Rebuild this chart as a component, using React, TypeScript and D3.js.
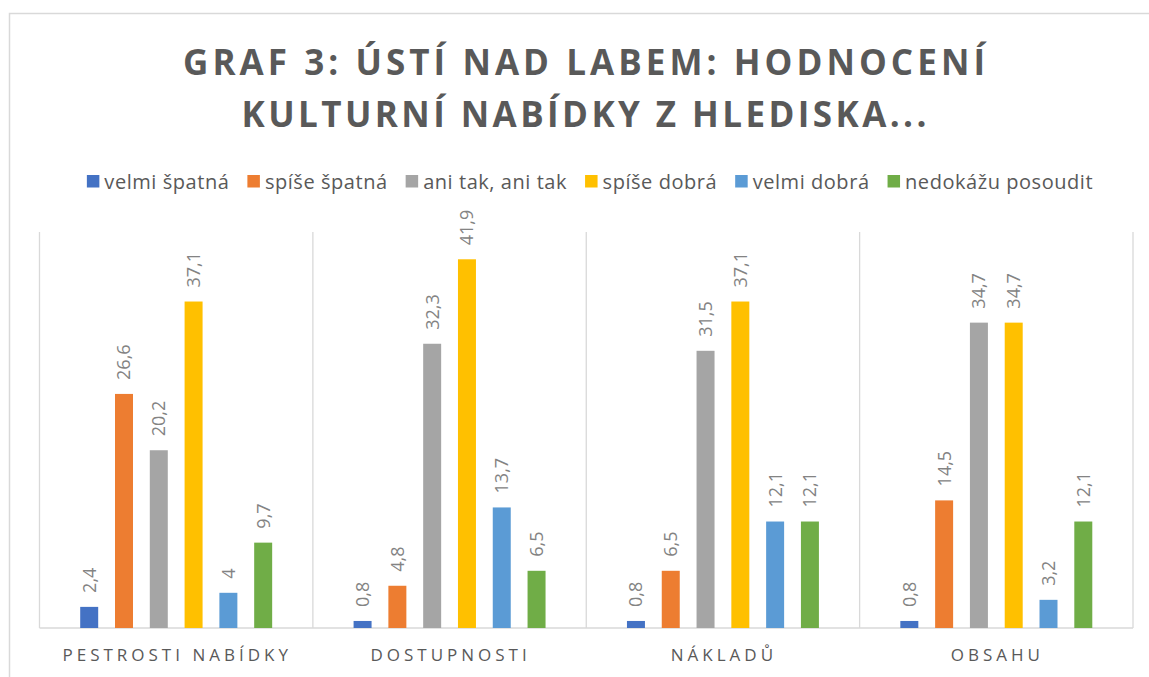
import React from "react";
import * as d3 from "d3";

const categories = ["PESTROSTI NABÍDKY", "DOSTUPNOSTI", "NÁKLADŮ", "OBSAHU"];
const seriesNames = ["velmi špatná", "spíše špatná", "ani tak, ani tak", "spíše dobrá", "velmi dobrá", "nedokážu posoudit"];
const seriesColors = ["#4472C4", "#ED7D31", "#A5A5A5", "#FFC000", "#5B9BD5", "#70AD47"];
const velmiSpatna = [2.4, 0.8, 0.8, 0.8];
const spiseSpatna = [26.6, 4.8, 6.5, 14.5];
const aniTak = [20.2, 32.3, 31.5, 34.7];
const spiseDobra = [37.1, 41.9, 37.1, 34.7];
const velmiDobra = [4, 13.7, 12.1, 3.2];
const nedokazu = [9.7, 6.5, 12.1, 12.1];
const seriesValues = [velmiSpatna, spiseSpatna, aniTak, spiseDobra, velmiDobra, nedokazu];
const titleLines = ["GRAF 3: ÚSTÍ NAD LABEM: HODNOCENÍ", "KULTURNÍ NABÍDKY Z HLEDISKA..."];
const titleLineWidths = [802, 685];
const yMax = 45;

const W = 1149;
const H = 677;
const FONT = "'Open Sans', sans-serif";

function measure(text: string, font: string, spacing: number): number {
  if (typeof document === "undefined") return text.length * 10;
  const c = document.createElement("canvas");
  const ctx = c.getContext("2d")!;
  ctx.font = font;
  return ctx.measureText(text).width + spacing * text.length;
}

export default function App() {
  const plotL = 39.5, plotR = 1133, plotT = 232, plotB = 628;
  const x0 = d3.scaleBand<string>().domain(categories).range([plotL, plotR]).padding(0);
  const x1 = d3.scaleBand<string>().domain(seriesNames).range([0, x0.bandwidth()]).paddingInner(0.483).paddingOuter(1.17);
  const y = d3.scaleLinear().domain([0, yMax]).range([plotB, plotT]);
  const fmt = (v: number) => d3.format(".1~f")(v).replace(".", ",");

  // legend layout
  const legSize = 20, legSpacing = 0.55;
  const legFont = `${legSize}px ${FONT}`;
  const sq = 12.5, sqGap = 5, itemGap = 18;
  const widths = seriesNames.map((s) => measure(s, legFont, legSpacing));
  const total = widths.reduce((a, w) => a + sq + sqGap + w, 0) + itemGap * (seriesNames.length - 1);
  let lx = 590 - total / 2;
  const legendItems = seriesNames.map((s, i) => {
    const item = { name: s, x: lx, color: seriesColors[i] };
    lx += sq + sqGap + widths[i] + itemGap;
    return item;
  });

  const boundaries = [...categories.map((c) => x0(c)!), plotR];

  return (
    <svg width={W} height={H} style={{ position: "absolute", left: 0, top: 0, background: "#fff" }}>
      <rect x={9.5} y={13.5} width={1160} height={700} fill="#fff" stroke="#d9d9d9" strokeWidth={1.5} />
      {titleLines.map((t, i) => (
        <text key={i} x={584 - titleLineWidths[i] / 2} y={75 + i * 52} fontFamily={FONT} fontWeight={700}
          fontSize={35} textLength={titleLineWidths[i]} lengthAdjust="spacing" fill="#595959">{t}</text>
      ))}
      {legendItems.map((it) => (
        <g key={it.name}>
          <rect x={it.x} y={175} width={sq} height={sq} fill={it.color} />
          <text x={it.x + sq + sqGap} y={188.5} fontFamily={FONT} fontSize={legSize} letterSpacing={legSpacing}
            fill="#595959">{it.name}</text>
        </g>
      ))}
      {boundaries.map((bx, i) => (
        <line key={i} x1={bx} x2={bx} y1={plotT} y2={plotB} stroke="#d9d9d9" strokeWidth={1.3} />
      ))}
      <line x1={plotL} x2={plotR} y1={plotB} y2={plotB} stroke="#d9d9d9" strokeWidth={1.3} />
      {categories.map((c, ci) => (
        <g key={c}>
          {seriesNames.map((s, si) => {
            const v = seriesValues[si][ci];
            const bx = x0(c)! + x1(s)!;
            const cx = bx + x1.bandwidth() / 2;
            return (
              <g key={s}>
                <rect x={bx} y={y(v)} width={x1.bandwidth()} height={plotB - y(v)} fill={seriesColors[si]} />
                <text transform={`translate(${cx + 6.5},${y(v) - 14}) rotate(-90)`} fontFamily={FONT}
                  fontSize={18} fill="#838383">{fmt(v)}</text>
              </g>
            );
          })}
          <text x={x0(c)! + x0.bandwidth() / 2 + 1} y={661} textAnchor="middle" fontFamily={FONT}
            fontSize={17} letterSpacing={4} fill="#595959">{c}</text>
        </g>
      ))}
    </svg>
  );
}
